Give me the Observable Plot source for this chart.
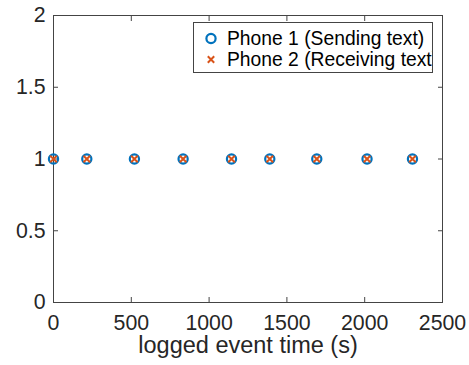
<!DOCTYPE html>
<html><head><meta charset="utf-8">
<script src="https://cdn.jsdelivr.net/npm/d3@7"></script>
<script src="https://cdn.jsdelivr.net/npm/@observablehq/plot@0.6"></script>
<style>
body{margin:0;background:#fff;font-family:"Liberation Sans",Arial,sans-serif}
#wrap{position:relative;width:469px;height:365px;overflow:hidden}
#legend{position:absolute;left:193px;top:22px;width:240px;height:51px;box-sizing:border-box;border:1px solid #444;background:#fff;overflow:hidden;padding-top:5px}
.row{position:relative;height:21px;line-height:21px;white-space:nowrap;font-size:19.3px;color:#000;padding-left:33px}
.row svg{position:absolute;left:7px;top:0}
</style></head><body>
<div id="wrap"><div id="chart"></div><div id="legend"></div></div>
<script>
const times1 = [0, 214, 520, 833, 1144, 1390, 1692, 2015, 2307];
const states1 = [1, 1, 1, 1, 1, 1, 1, 1, 1];
const times2 = [0, 214, 520, 833, 1144, 1390, 1692, 2015, 2307];
const states2 = [1, 1, 1, 1, 1, 1, 1, 1, 1];
const xTicks = [0, 500, 1000, 1500, 2000, 2500];
const yTicks = [0, 0.5, 1, 1.5, 2];
const xLabel = "logged event time (s)";
const seriesNames = ["Phone 1 (Sending text)", "Phone 2 (Receiving text)"];
const seriesColors = ["#0072BD", "#D95319"];

const data1 = times1.map((t, i) => ({t, v: states1[i]}));
const data2 = times2.map((t, i) => ({t, v: states2[i]}));
const axisColor = "#444";

const chart = Plot.plot({
  width: 469, height: 365,
  marginLeft: 53, marginRight: 27, marginTop: 15, marginBottom: 63,
  x: {domain: [0, 2500]},
  y: {domain: [0, 2]},
  style: {fontFamily: "'Liberation Sans', Arial, sans-serif", fontSize: "21.3px", color: "#262626", background: "#fff"},
  marks: [
    Plot.frame({stroke: axisColor}),
    Plot.axisX(xTicks, {anchor: "bottom", tickSize: -5, tickPadding: 17, stroke: axisColor, tickFormat: d => String(d), label: null, fontSize: 21.3}),
    Plot.axisX(xTicks, {anchor: "top", tickSize: -5, stroke: axisColor, tickFormat: () => "", label: null}),
    Plot.axisY(yTicks, {anchor: "left", tickSize: -5, tickPadding: 13, stroke: axisColor, tickFormat: d => String(d), label: null, fontSize: 21.3}),
    Plot.axisY(yTicks, {anchor: "right", tickSize: -5, stroke: axisColor, tickFormat: () => "", label: null}),
    Plot.text([xLabel], {frameAnchor: "bottom", dy: 50, fontSize: 23.5, fill: "#262626", text: d => d}),
    Plot.dot(data1, {x: "t", y: "v", r: 4.6, stroke: seriesColors[0], strokeWidth: 2.2, fill: "none"}),
    Plot.dot(data2, {x: "t", y: "v", r: 3.1, symbol: "times", stroke: seriesColors[1], strokeWidth: 2})
  ]
});
document.getElementById("chart").appendChild(chart);

const legend = document.getElementById("legend");
seriesNames.forEach((name, i) => {
  const row = document.createElement("div");
  row.className = "row";
  const marker = i === 0
    ? `<circle cx="10" cy="10.5" r="4.6" fill="none" stroke="${seriesColors[i]}" stroke-width="2.2"/>`
    : `<path d="M6.8,7.3L13.2,13.7M6.8,13.7L13.2,7.3" stroke="${seriesColors[i]}" stroke-width="2"/>`;
  row.innerHTML = `<svg width="20" height="21">${marker}</svg>`;
  row.appendChild(document.createTextNode(name));
  legend.appendChild(row);
});
</script>
</body></html>
